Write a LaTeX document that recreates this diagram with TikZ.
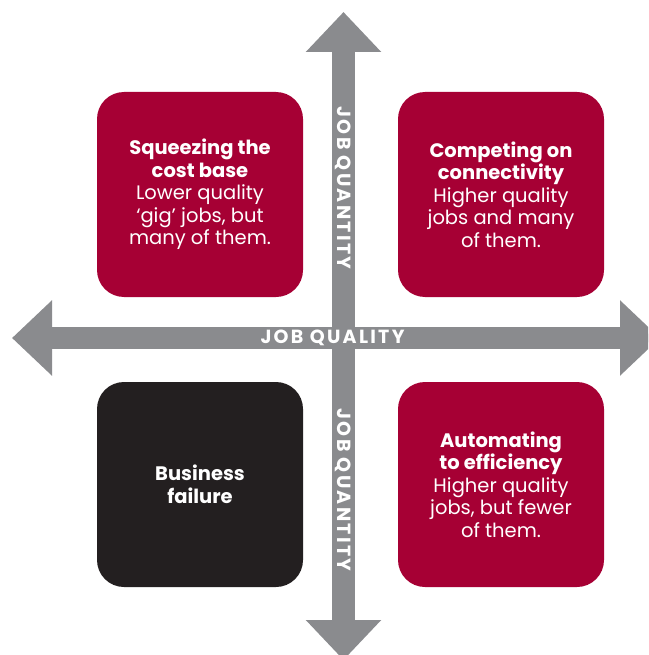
\documentclass[tikz,border=0pt]{standalone}
\usepackage{fontspec}
\setmainfont{Poppins}
\newfontfamily\axisfont{Poppins}[LetterSpace=12]
\usetikzlibrary{arrows.meta}
\definecolor{crimson}{RGB}{166,0,52}
\definecolor{ink}{RGB}{35,31,32}
\definecolor{axisgrey}{RGB}{138,139,142}
\tikzset{
  % node options
  quadrant/.style={rectangle,rounded corners=27pt,minimum width=206pt,minimum height=205pt,
    inner sep=0pt,text=white,align=center,font=\fontsize{19.5}{22.5}\selectfont},
  gain/.style={quadrant,fill=crimson},
  loss/.style={quadrant,fill=ink},
  axislabel/.style={text=white,inner sep=0pt,font=\axisfont\bfseries\fontsize{19}{19}\selectfont},
  % path options
  axis/.style={{Triangle[width=73pt,length=40pt]}-{Triangle[width=73pt,length=40pt]},
    line width=22.5pt,draw=axisgrey},
}

\begin{document}
\begin{tikzpicture}[x=1pt,y=-1pt]
    \useasboundingbox (0,0) rectangle (648,655);
    \clip (0,0) rectangle (648,655);
    \coordinate (west) at (12,338);
    \coordinate (east) at (660,338);
    \coordinate (north) at (343.5,12);
    \coordinate (south) at (343.5,660);
    \draw[axis] (west) -- (east);
    \draw[axis] (north) -- (south);
    \node[gain] (squeezing) at (200,194.5) {\textbf{Squeezing the}\\\textbf{cost base}\\Lower quality\\‘gig’ jobs, but\\many of them.};
    \node[gain] (competing) at (501,194.5) {\textbf{Competing on}\\\textbf{connectivity}\\Higher quality\\jobs and many\\of them.};
    \node[loss] (failure) at (200,484.5) {\textbf{Business}\\\textbf{failure}};
    \node[gain] (automating) at (501,484.5) {\textbf{Automating}\\\textbf{to efficiency}\\Higher quality\\jobs, but fewer\\of them.};
    \node[axislabel] (quality) at (332.5,338) {JOB QUALITY};
    \node[axislabel,rotate=-90] (quantity upper) at (343.5,188) {JOB QUANTITY};
    \node[axislabel,rotate=-90] (quantity lower) at (343.5,490) {JOB QUANTITY};
  \end{tikzpicture}
\end{document}
